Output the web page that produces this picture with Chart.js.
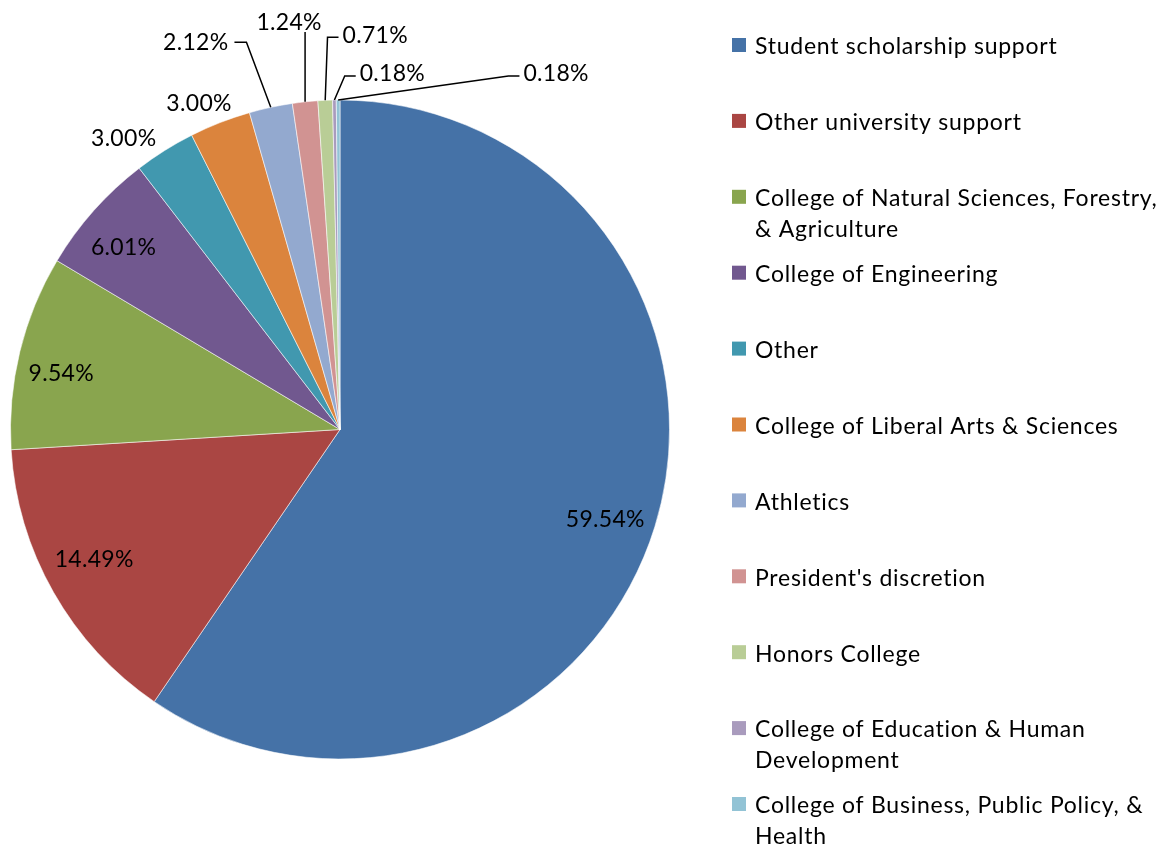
<!DOCTYPE html>
<html>
<head>
<meta charset="utf-8">
<script src="https://cdn.jsdelivr.net/npm/chart.js@4/dist/chart.umd.min.js"></script>
<style>
  html, body { margin: 0; padding: 0; background: #fff; }
  #wrap { width: 1165px; height: 848px; position: relative; }
</style>
</head>
<body>
<div id="wrap"><canvas id="c" width="1165" height="848"></canvas></div>
<script>
// ---- data ----
const categories = [
  ["Student scholarship support"],
  ["Other university support"],
  ["College of Natural Sciences, Forestry,", "& Agriculture"],
  ["College of Engineering"],
  ["Other"],
  ["College of Liberal Arts & Sciences"],
  ["Athletics"],
  ["President's discretion"],
  ["Honors College"],
  ["College of Education & Human", "Development"],
  ["College of Business, Public Policy, &", "Health"]
];
const values = [59.54, 14.49, 9.54, 6.01, 3.00, 3.00, 2.12, 1.24, 0.71, 0.18, 0.18];
const valueLabels = ["59.54%", "14.49%", "9.54%", "6.01%", "3.00%", "3.00%", "2.12%", "1.24%", "0.71%", "0.18%", "0.18%"];
const colors = ["#4572A7", "#AA4643", "#89A54E", "#71588F", "#4198AF", "#DB843D",
                "#93A9CF", "#D19392", "#B9CD96", "#A99BBD", "#92C3D5"];

// ---- label placement styles (relative to each slice's own geometry) ----
const placements = [
  { r: 0.83, dx: 4,   dy: 9 },
  { r: 0.83, dx: -8,  dy: -6 },
  { r: 0.83, dx: -13, dy: 8 },
  { r: 0.83, dx: -12, dy: -1 },
  { r: 1.0,  dx: -41, dy: -13 },
  { r: 1.0,  dx: -21, dy: -20 },
  { r: 1.0,  dx: -75, dy: -66, leader: "left" },
  { r: 1.0,  dx: -16, dy: -80, leader: "down" },
  { r: 1.0,  dx: 50,  dy: -66, leader: "right" },
  { r: 1.0,  dx: 58,  dy: -27, leader: "right" },
  { r: 1.0,  dx: 218, dy: -27, leader: "right" }
];

const FONT_SIZE = 23;
const FONT = FONT_SIZE + "px Lato, 'Open Sans', sans-serif";
const CAP = FONT_SIZE * 0.7165;

const labelPlugin = {
  id: "sliceLabels",
  afterDatasetsDraw(chart) {
    const ctx = chart.ctx;
    const meta = chart.getDatasetMeta(0);
    ctx.save();
    ctx.font = FONT;
    ctx.letterSpacing = "0.3px";
    ctx.fillStyle = "#000";
    ctx.textAlign = "center";
    ctx.textBaseline = "alphabetic";
    ctx.strokeStyle = "#000";
    ctx.lineWidth = 1.5;
    meta.data.forEach((arc, i) => {
      const p = arc.getProps(["x", "y", "startAngle", "endAngle", "outerRadius"], true);
      const mid = (p.startAngle + p.endAngle) / 2;
      const pl = placements[i];
      const rr = p.outerRadius * pl.r;
      const cx = p.x + Math.cos(mid) * rr + pl.dx;
      const cy = p.y + Math.sin(mid) * rr + pl.dy;
      const ox = p.x + Math.cos(mid) * p.outerRadius;
      const oy = p.y + Math.sin(mid) * p.outerRadius;
      const txt = valueLabels[i];
      const w = ctx.measureText(txt).width;
      ctx.fillText(txt, cx, cy + CAP / 2);
      if (pl.leader) {
        ctx.beginPath();
        if (pl.leader === "right") {
          const sx = cx - w / 2 - 4, ly = cy + 3, ex = sx - 11;
          ctx.moveTo(sx, ly); ctx.lineTo(ex, ly); ctx.lineTo(ox, oy);
        } else if (pl.leader === "left") {
          const sx = cx + w / 2 + 6, ly = cy + 1, ex = sx + 12;
          ctx.moveTo(sx, ly); ctx.lineTo(ex, ly); ctx.lineTo(ox, oy);
        } else if (pl.leader === "down") {
          ctx.moveTo(ox, cy + CAP / 2 + 2); ctx.lineTo(ox, oy);
        }
        ctx.stroke();
      }
    });
    ctx.restore();
  }
};

const legendPlugin = {
  id: "sideLegend",
  afterDraw(chart) {
    const ctx = chart.ctx;
    const labels = chart.data.labels;
    const bg = chart.data.datasets[0].backgroundColor;
    ctx.save();
    ctx.font = FONT;
    ctx.letterSpacing = "0.75px";
    ctx.fillStyle = "#000";
    ctx.textAlign = "left";
    ctx.textBaseline = "alphabetic";
    const firstBaseline = 54.3, step = 75.9, lineH = 31;
    labels.forEach((lines, i) => {
      const base = firstBaseline + i * step;
      ctx.fillStyle = bg[i];
      ctx.fillRect(732, base - 16.3, 14, 14);
      ctx.fillStyle = "#000";
      lines.forEach((ln, k) => ctx.fillText(ln, 755, base + k * lineH));
    });
    ctx.restore();
  }
};

new Chart(document.getElementById("c"), {
  type: "pie",
  data: {
    labels: categories,
    datasets: [{
      data: values,
      backgroundColor: colors,
      borderColor: "rgba(255,255,255,0.55)",
      borderWidth: 1
    }]
  },
  options: {
    responsive: false,
    animation: false,
    layout: { padding: { left: 10, top: 99, right: 495, bottom: 88 } },
    plugins: {
      legend: { display: false },
      tooltip: { enabled: false },
      title: { display: false }
    }
  },
  plugins: [labelPlugin, legendPlugin]
});
</script>
</body>
</html>
